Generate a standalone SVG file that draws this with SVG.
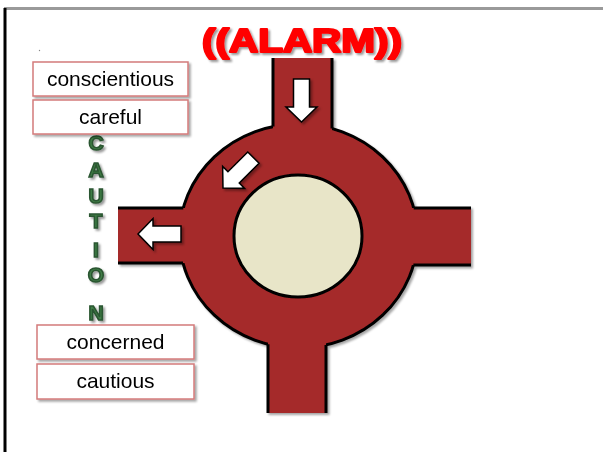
<svg xmlns="http://www.w3.org/2000/svg" width="603" height="452" viewBox="0 0 603 452">
<defs>
<filter id="sh" x="-10%" y="-10%" width="130%" height="130%">
<feDropShadow dx="2" dy="2" stdDeviation="1" flood-color="#000" flood-opacity="0.35"/>
</filter>
<filter id="tsh" x="-10%" y="-20%" width="130%" height="150%">
<feDropShadow dx="2" dy="2" stdDeviation="1" flood-color="#000" flood-opacity="0.4"/>
</filter>
<polygon id="arrow" points="0,0 15,-15.5 15,-8 43,-8 43,8 15,8 15,15.5" fill="#fff" stroke="#000" stroke-width="1.5" stroke-linejoin="miter"/>
</defs>
<style>
.box{fill:#fff;stroke:#d47b7b;stroke-width:1.5}
.lbl{font-family:"Liberation Sans",Arial,sans-serif;font-size:21px;fill:#000;text-anchor:middle}
.road{fill:#a52a2b}
.edge{stroke:#000;stroke-width:3;fill:none}
.cau{font-family:"Liberation Sans",Arial,sans-serif;font-weight:bold;font-size:21px;fill:#3f7d46;stroke:#2a5530;stroke-width:1.6;text-anchor:middle}
</style>
<rect x="0" y="0" width="603" height="452" fill="#fff"/>
<g id="frame">
<line x1="4" y1="8.5" x2="603" y2="8.5" stroke="#9a9a9a" stroke-width="3"/>
<line x1="5" y1="8" x2="5" y2="452" stroke="#000" stroke-width="3"/>
</g>
<circle cx="39.5" cy="50.5" r="0.7" fill="#888"/>
<g id="roundabout" filter="url(#sh)">
<ellipse cx="298.5" cy="236" rx="119" ry="112" class="road" stroke="#000" stroke-width="3"/>
<rect x="273" y="58" width="59" height="100" class="road"/>
<rect x="268" y="310" width="58" height="103" class="road"/>
<rect x="118" y="208" width="100" height="55" class="road"/>
<rect x="380" y="208" width="91" height="57" class="road"/>
<path class="edge" d="M273,58V126.6M332,58V128.5M268,413V344.3M326,413V345M118,208H183.3M118,263H183M471,208H413.7M471,265H413.4"/>
<ellipse cx="298" cy="236" rx="64" ry="61" fill="#e8e5c8" stroke="#000" stroke-width="3"/>
</g>
<g id="arrows" filter="url(#sh)">
<use href="#arrow" transform="translate(301.5,122) rotate(-90)"/>
<use href="#arrow" transform="translate(223,188) rotate(-45)"/>
<use href="#arrow" transform="translate(138,234)"/>
</g>
<g id="title" filter="url(#tsh)">
<text x="202" y="52" font-family="'Liberation Sans',Arial,sans-serif" font-weight="bold" font-size="34" fill="#ff0000" stroke="#ff0000" stroke-width="2.2" stroke-linejoin="round" textLength="200" lengthAdjust="spacingAndGlyphs">((ALARM))</text>
</g>
<g id="caution" filter="url(#tsh)">
<text class="cau" x="96" y="150">C</text>
<text class="cau" x="96" y="177">A</text>
<text class="cau" x="96" y="203">U</text>
<text class="cau" x="96" y="228">T</text>
<text class="cau" x="96" y="257" font-size="26">I</text>
<text class="cau" x="96" y="282">O</text>
<text class="cau" x="96" y="320" font-size="27">N</text>
</g>
<g id="n-conscientious" filter="url(#sh)">
<rect class="box" x="33" y="62" width="155" height="34"/>
<text class="lbl" x="110.5" y="86">conscientious</text>
</g>
<g id="n-careful" filter="url(#sh)">
<rect class="box" x="33" y="100" width="155" height="34"/>
<text class="lbl" x="110.5" y="124">careful</text>
</g>
<g id="n-concerned" filter="url(#sh)">
<rect class="box" x="37" y="325" width="157" height="34"/>
<text class="lbl" x="115.5" y="349">concerned</text>
</g>
<g id="n-cautious" filter="url(#sh)">
<rect class="box" x="37" y="364" width="157" height="35"/>
<text class="lbl" x="115.5" y="388">cautious</text>
</g>
</svg>
